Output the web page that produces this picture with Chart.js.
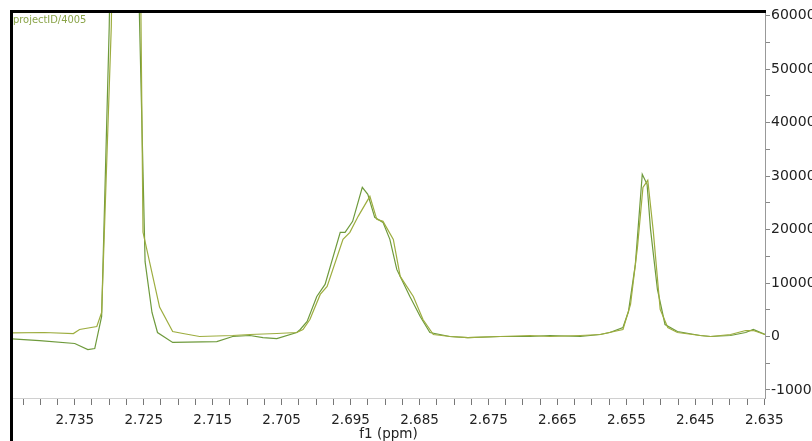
<!DOCTYPE html>
<html lang="en">
<head>
<meta charset="UTF-8">
<title>f1 (ppm)</title>
<script src="https://cdn.jsdelivr.net/npm/chart.js@4"></script>
<style>
    html, body { margin: 0; padding: 0; background: #fff; }
    .chart-box { position: relative; width: 812px; height: 441px; }
</style>
</head>
<body>
<div class="chart-box">
    <canvas id="specChart" width="812" height="441"></canvas>
</div>
<script>
// spectrum 1 (yellow-green trace)
const ppmA = [2.7441, 2.7394, 2.7352, 2.7343, 2.7318, 2.7311, 2.7297, 2.7285, 2.7270, 2.7257,
    2.7251, 2.7227, 2.7208, 2.7193, 2.7169, 2.7121, 2.7096, 2.7057, 2.7028, 2.7019,
    2.7009, 2.6994, 2.6984, 2.6961, 2.6951, 2.6939, 2.6922, 2.6912, 2.6903, 2.6888,
    2.6878, 2.6859, 2.6845, 2.6830, 2.6806, 2.6780, 2.6733, 2.6690, 2.6661, 2.6617,
    2.6588, 2.6555, 2.6544, 2.6534, 2.6526, 2.6519, 2.6511, 2.6501, 2.6490, 2.6476,
    2.6443, 2.6428, 2.6399, 2.6377, 2.6366, 2.6349];
const intA = [690, 750, 560, 1310, 1870, 4490, 58000, 170000, 180000, 100000,
    19500, 5500, 940, 560, 0, 190, 375, 560, 750, 1310,
    3180, 7870, 9370, 18170, 19480, 22480, 26220, 21910, 21540, 18170,
    11240, 7490, 3180, 375, 0, -190, 0, 190, 0, 190,
    375, 1310, 5990, 16670, 27900, 29220, 19670, 5060, 1690, 750,
    190, 0, 375, 1120, 1120, 375];

// spectrum 2 (green trace)
const ppmB = [2.7441, 2.7401, 2.7350, 2.7331, 2.7321, 2.7311, 2.7300, 2.7285, 2.7270, 2.7258,
    2.7248, 2.7238, 2.7230, 2.7208, 2.7144, 2.7121, 2.7096, 2.7077, 2.7057, 2.7028,
    2.7023, 2.7013, 2.6999, 2.6987, 2.6965, 2.6958, 2.6947, 2.6933, 2.6925, 2.6915,
    2.6903, 2.6893, 2.6883, 2.6864, 2.6849, 2.6835, 2.6806, 2.6780, 2.6733, 2.6690,
    2.6661, 2.6617, 2.6588, 2.6574, 2.6555, 2.6547, 2.6537, 2.6527, 2.6520, 2.6515,
    2.6505, 2.6494, 2.6476, 2.6443, 2.6428, 2.6399, 2.6377, 2.6366, 2.6349];
const intB = [-430, -750, -1310, -2430, -2250, 3750, 58000, 180000, 190000, 70000,
    14000, 4500, 750, -1100, -940, 0, 190, -190, -375, 750,
    1310, 2810, 7490, 9740, 19480, 19480, 21540, 27900, 26600, 22290,
    21350, 18170, 12550, 7490, 3750, 750, 0, -190, 0, 0,
    190, 0, 375, 750, 1690, 4680, 13490, 30340, 28470, 20040,
    8800, 2250, 940, 190, 0, 190, 750, 1310, 375];

// axis ticks
const xMajorTicks = [2.735, 2.725, 2.715, 2.705, 2.695, 2.685, 2.675, 2.665, 2.655, 2.645, 2.635];
const yMajorTicks = [60000, 50000, 40000, 30000, 20000, 10000, 0, -10000];

const xMin = 2.6349, xMax = 2.7441;
const yMin = -11500, yMax = 60700;

function toPoints(xs, ys) {
    return xs.map((x, i) => ({ x: x, y: ys[i] }));
}

const frame = {
    id: 'frame',
    afterDraw(chart) {
        const ctx = chart.ctx;
        const a = chart.chartArea;
        ctx.save();
        ctx.fillStyle = '#8aa448';
        ctx.font = '11px "DejaVu Sans Condensed", "DejaVu Sans", sans-serif';
        ctx.textBaseline = 'top';
        ctx.fillText('projectID/4005', a.left + 1, a.top + 3);
        ctx.strokeStyle = '#000';
        ctx.lineWidth = 3;
        ctx.beginPath();
        ctx.moveTo(11.5, 441);
        ctx.lineTo(11.5, 11.5);
        ctx.lineTo(a.right + 1, 11.5);
        ctx.stroke();
        ctx.restore();
    }
};

const fontFamily = '"DejaVu Sans", Verdana, sans-serif';

new Chart(document.getElementById('specChart'), {
    type: 'line',
    data: {
        datasets: [{
            label: 'spectrum 1',
            data: toPoints(ppmA, intA),
            borderColor: '#9dad3f',
            borderWidth: 1.2,
            pointRadius: 0,
            tension: 0
        }, {
            label: 'spectrum 2',
            data: toPoints(ppmB, intB),
            borderColor: '#6e9a3c',
            borderWidth: 1.2,
            pointRadius: 0,
            tension: 0
        }]
    },
    options: {
        responsive: false,
        animation: false,
        layout: { padding: { left: 12, top: 12, right: 0, bottom: 0 } },
        plugins: {
            legend: { display: false },
            tooltip: { enabled: false }
        },
        scales: {
            x: {
                type: 'linear',
                reverse: true,
                min: xMin,
                max: xMax,
                afterBuildTicks(scale) {
                    const t = [];
                    for (let i = 0; i <= 43; i++) {
                        const v = +(2.635 + i * 0.0025).toFixed(4);
                        if (v <= xMax) t.push({ value: v });
                    }
                    scale.ticks = t;
                },
                afterFit(scale) { scale.height = 43; },
                grid: {
                    drawOnChartArea: false,
                    tickLength: 7,
                    tickColor: '#777'
                },
                border: { color: '#d0d0d0' },
                ticks: {
                    autoSkip: false,
                    maxRotation: 0,
                    padding: 7,
                    color: '#222',
                    font: { family: fontFamily, size: 13.5 },
                    callback(value) {
                        const hit = xMajorTicks.find(m => Math.abs(m - value) < 1e-6);
                        return hit !== undefined ? hit.toFixed(3) : '';
                    }
                },
                title: {
                    display: true,
                    text: 'f1 (ppm)',
                    color: '#222',
                    font: { family: fontFamily, size: 13.5, lineHeight: 1.0 },
                    padding: { top: 0, bottom: 0 }
                }
            },
            y: {
                position: 'right',
                min: yMin,
                max: yMax,
                afterBuildTicks(scale) {
                    const t = [];
                    for (let v = -10000; v <= 60000; v += 5000) t.push({ value: v });
                    scale.ticks = t;
                },
                afterFit(scale) { scale.width = 47; },
                grid: {
                    drawOnChartArea: false,
                    tickLength: 5,
                    tickColor: '#888'
                },
                border: { color: '#999' },
                ticks: {
                    autoSkip: false,
                    padding: 1,
                    color: '#222',
                    font: { family: fontFamily, size: 14 },
                    callback(value) {
                        return yMajorTicks.includes(value) ? String(value) : '';
                    }
                }
            }
        }
    },
    plugins: [frame]
});
</script>
</body>
</html>
